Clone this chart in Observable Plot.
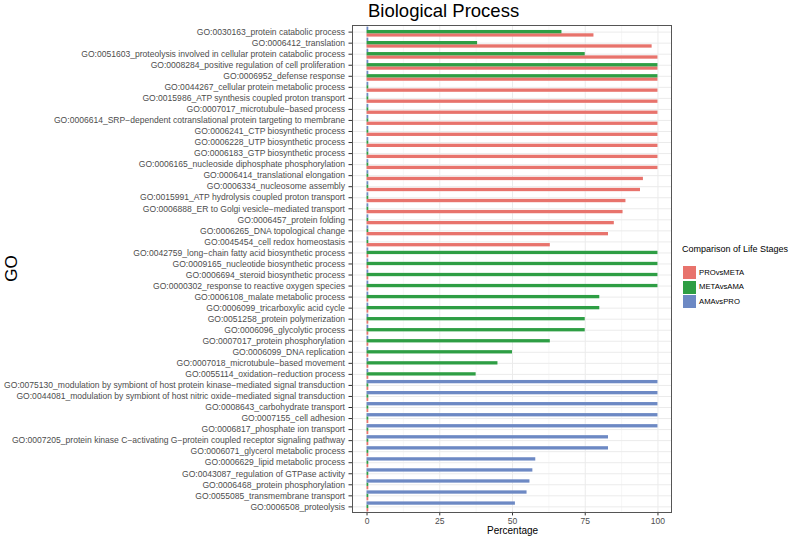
<!DOCTYPE html>
<html>
<head>
<meta charset="utf-8">
<script src="https://cdn.jsdelivr.net/npm/d3@7"></script>
<script src="https://cdn.jsdelivr.net/npm/@observablehq/plot@0.6"></script>
<style>
  body { margin: 0; background: white; font-family: "Liberation Sans", Arial, sans-serif; }
  #wrap { position: relative; width: 800px; height: 540px; overflow: hidden; }
  .ov { position: absolute; white-space: nowrap; line-height: 1; }
</style>
</head>
<body>
<div id="wrap"></div>
<script>
const terms = [
  "GO:0030163_protein catabolic process",
  "GO:0006412_translation",
  "GO:0051603_proteolysis involved in cellular protein catabolic process",
  "GO:0008284_positive regulation of cell proliferation",
  "GO:0006952_defense response",
  "GO:0044267_cellular protein metabolic process",
  "GO:0015986_ATP synthesis coupled proton transport",
  "GO:0007017_microtubule\u2212based process",
  "GO:0006614_SRP\u2212dependent cotranslational protein targeting to membrane",
  "GO:0006241_CTP biosynthetic process",
  "GO:0006228_UTP biosynthetic process",
  "GO:0006183_GTP biosynthetic process",
  "GO:0006165_nucleoside diphosphate phosphorylation",
  "GO:0006414_translational elongation",
  "GO:0006334_nucleosome assembly",
  "GO:0015991_ATP hydrolysis coupled proton transport",
  "GO:0006888_ER to Golgi vesicle\u2212mediated transport",
  "GO:0006457_protein folding",
  "GO:0006265_DNA topological change",
  "GO:0045454_cell redox homeostasis",
  "GO:0042759_long\u2212chain fatty acid biosynthetic process",
  "GO:0009165_nucleotide biosynthetic process",
  "GO:0006694_steroid biosynthetic process",
  "GO:0000302_response to reactive oxygen species",
  "GO:0006108_malate metabolic process",
  "GO:0006099_tricarboxylic acid cycle",
  "GO:0051258_protein polymerization",
  "GO:0006096_glycolytic process",
  "GO:0007017_protein phosphorylation",
  "GO:0006099_DNA replication",
  "GO:0007018_microtubule\u2212based movement",
  "GO:0055114_oxidation\u2212reduction process",
  "GO:0075130_modulation by symbiont of host protein kinase\u2212mediated signal transduction",
  "GO:0044081_modulation by symbiont of host nitric oxide\u2212mediated signal transduction",
  "GO:0008643_carbohydrate transport",
  "GO:0007155_cell adhesion",
  "GO:0006817_phosphate ion transport",
  "GO:0007205_protein kinase C\u2212activating G\u2212protein coupled receptor signaling pathway",
  "GO:0006071_glycerol metabolic process",
  "GO:0006629_lipid metabolic process",
  "GO:0043087_regulation of GTPase activity",
  "GO:0006468_protein phosphorylation",
  "GO:0055085_transmembrane transport",
  "GO:0006508_proteolysis"
];

const proVsMeta = [
  78, 98, 100, 100, 100, 100, 100, 100, 100, 100, 100, 100, 100, 95, 94, 89, 88, 85, 83, 63,
  0.6, 0.6, 0.6, 0.6, 0.6, 0.6, 0.6, 0.6, 0.6, 0.6, 0.6, 0.6,
  0.6, 0.6, 0.6, 0.6, 0.6, 0.6, 0.6, 0.6, 0.6, 0.6, 0.6, 0.6
];
const metaVsAma = [
  67, 38, 75, 100, 100, 0.6, 0.6, 0.6, 0.6, 0.6, 0.6, 0.6, 0.6, 0.6, 0.6, 0.6, 0.6, 0.6, 0.6, 0.6,
  100, 100, 100, 100, 80, 80, 75, 75, 63, 50, 45, 37.5,
  0.6, 0.6, 0.6, 0.6, 0.6, 0.6, 0.6, 0.6, 0.6, 0.6, 0.6, 0.6
];
const amaVsPro = [
  0.6, 0.6, 0.6, 0.6, 0.6, 0.6, 0.6, 0.6, 0.6, 0.6, 0.6, 0.6, 0.6, 0.6, 0.6, 0.6, 0.6, 0.6, 0.6, 0.6,
  0.6, 0.6, 0.6, 0.6, 0.6, 0.6, 0.6, 0.6, 0.6, 0.6, 0.6, 0.6,
  100, 100, 100, 100, 100, 83, 83, 58, 57, 56, 55, 51
];

const series = ["PROvsMETA", "METAvsAMA", "AMAvsPRO"];
const colors = ["#E8736C", "#2E9E44", "#6D89C4"];
const xTicks = [0, 25, 50, 75, 100];
const xMinor = [12.5, 37.5, 62.5, 87.5];

const seriesValues = [proVsMeta, metaVsAma, amaVsPro];
const rows = [];
terms.forEach((t, i) => {
  series.forEach((s, k) => rows.push({term: t, series: s, value: seriesValues[k][i]}));
});

const ML = 352, MR = 128, MT = 25, MB = 27, W = 800, H = 540;

const chart = Plot.plot({
  width: W, height: H,
  marginLeft: ML, marginRight: MR, marginTop: MT, marginBottom: MB,
  style: {fontFamily: "'Liberation Sans', Arial, sans-serif", fontSize: "8.55px", color: "#4d4d4d", background: "white"},
  x: {domain: [-5, 105], axis: null},
  y: {domain: ["AMAvsPRO", "METAvsAMA", "PROvsMETA"], paddingInner: 0, paddingOuter: 0.1667, round: false, axis: null},
  fy: {domain: terms, paddingInner: 0, paddingOuter: 0.1, round: false, axis: null, label: null},
  color: {domain: series, range: colors},
  marks: [
    Plot.gridX(xMinor, {stroke: "#F2F2F2", strokeOpacity: 1, strokeWidth: 0.6}),
    Plot.gridX(xTicks, {stroke: "#EBEBEB", strokeOpacity: 1, strokeWidth: 1}),
    Plot.ruleY(["METAvsAMA"], {stroke: "#EBEBEB", strokeWidth: 1}),
    Plot.barX(rows, {x: "value", y: "series", fy: "term", fill: "series"}),
    Plot.axisX({ticks: xTicks, tickSize: 3.5, tickPadding: 2, label: null, stroke: "#333", fill: "#4d4d4d"}),
    Plot.axisFy({anchor: "left", tickSize: 3.5, tickPadding: 4, label: null, stroke: "#333", fill: "#4d4d4d"})
  ]
});

const wrap = document.getElementById("wrap");
wrap.appendChild(chart);

function ov(html, style) {
  const d = document.createElement("div");
  d.className = "ov";
  d.innerHTML = html;
  Object.assign(d.style, style);
  wrap.appendChild(d);
  return d;
}

// panel border
ov("", {left: ML + "px", top: MT + "px", width: (W - ML - MR) + "px", height: (H - MT - MB) + "px",
  border: "1px solid #555", boxSizing: "border-box", pointerEvents: "none"});

// title
ov("Biological Process", {left: "368px", top: "2px", fontSize: "18.5px", color: "#000"});
// axis titles
ov("Percentage", {left: "487px", top: "526px", fontSize: "10px", color: "#000"});
ov("GO", {left: "-2px", top: "260px", fontSize: "17px", color: "#000", transform: "rotate(-90deg)", transformOrigin: "center"});

// legend
ov("Comparison of Life Stages", {left: "682px", top: "245px", fontSize: "9px", color: "#000"});
series.forEach((s, k) => {
  const top = 266 + k * 14.6;
  ov("", {left: "683px", top: top + "px", width: "13px", height: "13px", background: colors[k]});
  ov(s, {left: "699px", top: (top + 2.6) + "px", fontSize: "7.7px", color: "#000"});
});
</script>
</body>
</html>
